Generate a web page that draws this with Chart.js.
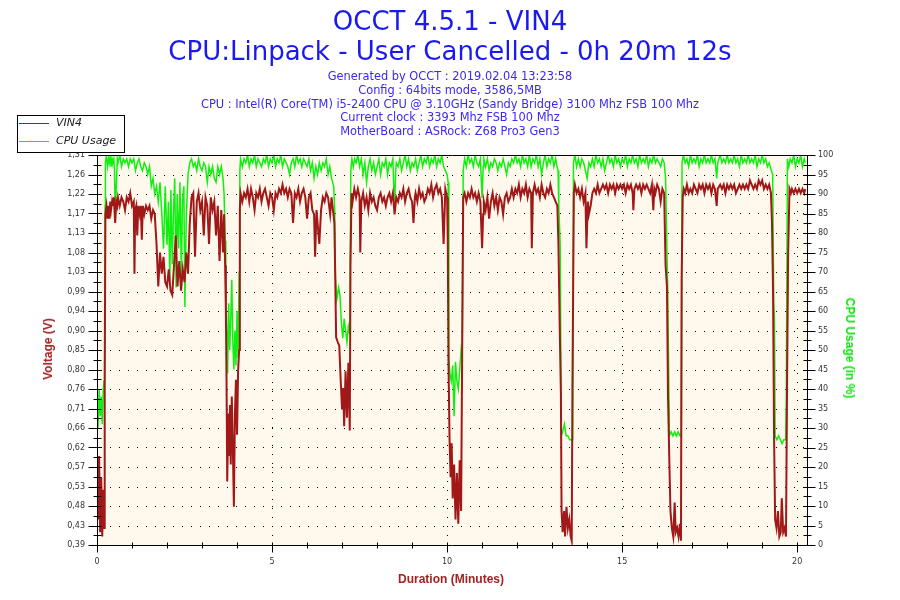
<!DOCTYPE html>
<html>
<head>
<meta charset="utf-8">
<script src="https://cdn.jsdelivr.net/npm/chart.js@4/dist/chart.umd.min.js"></script>
<style>
  body { margin: 0; background: #fff; }
  #wrap { position: relative; width: 900px; height: 600px; overflow: hidden; }
  #c { position: absolute; left: 0; top: 0; }
  .t { position: absolute; left: 0; width: 900px; text-align: center; font-family: "DejaVu Sans", sans-serif; white-space: nowrap; }
  .big { font-size: 26px; line-height: 30px; color: #1a1aee; }
  .small { font-size: 11.4px; line-height: 13.8px; color: #3c28f0; }
  .axt { position: absolute; font-family: "Liberation Sans", Arial, sans-serif; font-weight: bold; font-size: 12px; white-space: nowrap; }
  #legend { position: absolute; left: 17px; top: 115px; width: 106px; height: 36px; border: 1px solid #000; background: #fff; font-family: "DejaVu Sans", sans-serif; font-style: italic; font-size: 11px; color: #222; }
  #legend .ln { position: absolute; left: 1px; width: 30px; height: 1px; }
  #legend .lb { position: absolute; left: 38px; line-height: 14px; }
</style>
</head>
<body>
<div id="wrap">
  <canvas id="c" width="900" height="600"></canvas>
  <div class="t big" style="top:6px">OCCT 4.5.1 - VIN4</div>
  <div class="t big" style="top:36px">CPU:Linpack - User Cancelled - 0h 20m 12s</div>
  <div class="t small" style="top:70px">Generated by OCCT : 2019.02.04 13:23:58<br>Config : 64bits mode, 3586,5MB<br>CPU : Intel(R) Core(TM) i5-2400 CPU @ 3.10GHz (Sandy Bridge) 3100 Mhz FSB 100 Mhz<br>Current clock : 3393 Mhz FSB 100 Mhz<br>MotherBoard : ASRock: Z68 Pro3 Gen3</div>
  <div id="legend">
    <div class="ln" style="top:7px;background:#a01818"></div><div class="lb" style="top:0px">VIN4</div>
    <div class="ln" style="top:25px;background:#10f010"></div><div class="lb" style="top:18px">CPU Usage</div>
  </div>
  <div class="axt" style="left:48px;top:349px;color:#a52222;transform:translate(-50%,-50%) rotate(-90deg)">Voltage (V)</div>
  <div class="axt" style="left:850px;top:348px;color:#10e010;transform:translate(-50%,-50%) rotate(90deg)">CPU Usage (in %)</div>
  <div class="axt" style="left:451px;top:579px;color:#a52222;transform:translate(-50%,-50%)">Duration (Minutes)</div>
</div>
<script>
// VIN4: [minute, volts]
const vinSamples = [
  [0.00, 0.58], [0.03, 0.45], [0.06, 0.60], [0.09, 0.42], [0.12, 0.55], [0.15, 0.41], [0.18, 0.52], [0.21, 0.43], [0.22, 0.78],
  [0.24, 1.17], [0.27, 1.19], [0.30, 1.16], [0.33, 1.19], [0.35, 1.16], [0.38, 1.20], [0.40, 1.18], [0.43, 1.20], [0.45, 1.19],
  [0.48, 1.21], [0.50, 1.18], [0.52, 1.15], [0.55, 1.20], [0.58, 1.19], [0.60, 1.21], [0.65, 1.19], [0.70, 1.21], [0.75, 1.20],
  [0.80, 1.18], [0.85, 1.21], [0.90, 1.20], [0.95, 1.22], [1.00, 1.19], [1.05, 1.20], [1.07, 1.03], [1.09, 1.18], [1.12, 1.19],
  [1.15, 1.12], [1.18, 1.19], [1.22, 1.17], [1.25, 1.19], [1.28, 1.11], [1.31, 1.19], [1.35, 1.17], [1.40, 1.19], [1.45, 1.18],
  [1.50, 1.19], [1.55, 1.16], [1.60, 1.18], [1.65, 1.17],
  [1.70, 1.10], [1.75, 1.00], [1.80, 1.08], [1.85, 1.03], [1.90, 1.07], [1.95, 1.01], [2.00, 1.00], [2.05, 1.04], [2.10, 0.99],
  [2.15, 0.98], [2.20, 1.05], [2.25, 1.12], [2.30, 1.00], [2.35, 1.06], [2.40, 0.99], [2.45, 1.04], [2.50, 1.01], [2.55, 1.08],
  [2.60, 1.03], [2.65, 1.15],
  [2.70, 1.21], [2.75, 1.22], [2.80, 1.07], [2.85, 1.20], [2.90, 1.22], [2.95, 1.18], [3.00, 1.20], [3.05, 1.12], [3.10, 1.21],
  [3.15, 1.19], [3.20, 1.10], [3.25, 1.21], [3.30, 1.18], [3.35, 1.20], [3.40, 1.12], [3.45, 1.19], [3.50, 1.06], [3.55, 1.18],
  [3.60, 1.08], [3.63, 1.17],
  [3.66, 1.05], [3.68, 0.95], [3.70, 0.78], [3.72, 0.54], [3.75, 0.70], [3.77, 0.60], [3.80, 0.72], [3.82, 0.58], [3.85, 0.74],
  [3.88, 0.62], [3.91, 0.48], [3.94, 0.70], [3.97, 0.78], [4.00, 0.65], [4.03, 0.80], [4.06, 0.85], [4.08, 1.18],
  [4.10, 1.22], [4.15, 1.20], [4.20, 1.22], [4.25, 1.21], [4.30, 1.23], [4.35, 1.20], [4.40, 1.23], [4.45, 1.21], [4.50, 1.18],
  [4.55, 1.22], [4.60, 1.21], [4.65, 1.23], [4.70, 1.20], [4.75, 1.22], [4.80, 1.23], [4.85, 1.21], [4.90, 1.19], [4.95, 1.22],
  [5.00, 1.21], [5.05, 1.18], [5.10, 1.22], [5.15, 1.21], [5.20, 1.23], [5.25, 1.22], [5.30, 1.24], [5.35, 1.22], [5.40, 1.23],
  [5.45, 1.21], [5.50, 1.23], [5.55, 1.22], [5.60, 1.15], [5.65, 1.22], [5.70, 1.21], [5.75, 1.23], [5.80, 1.20], [5.85, 1.22],
  [5.90, 1.23], [5.95, 1.21], [6.00, 1.16], [6.05, 1.21], [6.10, 1.22], [6.15, 1.18], [6.20, 1.17], [6.23, 1.07], [6.27, 1.18],
  [6.30, 1.15], [6.35, 1.10], [6.40, 1.18], [6.45, 1.21], [6.50, 1.20], [6.55, 1.22], [6.60, 1.21], [6.66, 1.17], [6.70, 1.21],
  [6.78, 1.15], [6.80, 1.05], [6.83, 0.88], [6.87, 0.87], [6.92, 0.86], [6.96, 0.78], [7.00, 0.71], [7.03, 0.76], [7.06, 0.67],
  [7.10, 0.80], [7.14, 0.69], [7.18, 0.82], [7.22, 0.66], [7.24, 1.05],
  [7.27, 1.22], [7.30, 1.20], [7.35, 1.23], [7.40, 1.21], [7.45, 1.23], [7.50, 1.21], [7.52, 1.08], [7.55, 1.20], [7.60, 1.22],
  [7.65, 1.19], [7.70, 1.21], [7.75, 1.18], [7.80, 1.22], [7.85, 1.20], [7.90, 1.21], [7.95, 1.19], [8.00, 1.18], [8.05, 1.21],
  [8.10, 1.22], [8.15, 1.20], [8.20, 1.21], [8.25, 1.19], [8.30, 1.21], [8.35, 1.22], [8.40, 1.20], [8.45, 1.22], [8.50, 1.17],
  [8.55, 1.21], [8.60, 1.20], [8.65, 1.22], [8.70, 1.21], [8.75, 1.23], [8.80, 1.20], [8.85, 1.22], [8.90, 1.23], [8.95, 1.21],
  [9.00, 1.20], [9.04, 1.15], [9.08, 1.21], [9.10, 1.22], [9.15, 1.20], [9.20, 1.23], [9.25, 1.21], [9.30, 1.22], [9.35, 1.20],
  [9.40, 1.21], [9.45, 1.23], [9.50, 1.22], [9.55, 1.24], [9.60, 1.21], [9.65, 1.23], [9.70, 1.24], [9.75, 1.22], [9.80, 1.23],
  [9.85, 1.21], [9.90, 1.10], [9.95, 1.23], [10.00, 1.21],
  [10.02, 1.10], [10.04, 0.82], [10.07, 0.64], [10.10, 0.55], [10.13, 0.63], [10.16, 0.50], [10.20, 0.58], [10.24, 0.45],
  [10.28, 0.56], [10.32, 0.44], [10.36, 0.59], [10.40, 0.47], [10.43, 0.84],
  [10.46, 1.21], [10.50, 1.22], [10.55, 1.20], [10.60, 1.22], [10.65, 1.21], [10.70, 1.23], [10.75, 1.21], [10.80, 1.22],
  [10.85, 1.20], [10.90, 1.22], [10.95, 1.20], [11.00, 1.09], [11.03, 1.17], [11.05, 1.20], [11.10, 1.18], [11.15, 1.21],
  [11.20, 1.16], [11.25, 1.20], [11.30, 1.22], [11.35, 1.19], [11.40, 1.21], [11.45, 1.18], [11.50, 1.21], [11.55, 1.20],
  [11.60, 1.17], [11.65, 1.21], [11.70, 1.22], [11.75, 1.20], [11.80, 1.21], [11.85, 1.23], [11.90, 1.21], [11.95, 1.23],
  [12.00, 1.22], [12.05, 1.24], [12.10, 1.21], [12.15, 1.23], [12.20, 1.22], [12.25, 1.24], [12.30, 1.21], [12.35, 1.23],
  [12.40, 1.22], [12.42, 1.09], [12.45, 1.22], [12.50, 1.24], [12.55, 1.22], [12.60, 1.23], [12.65, 1.21], [12.70, 1.24],
  [12.75, 1.22], [12.80, 1.21], [12.85, 1.23], [12.90, 1.22], [12.95, 1.24], [13.00, 1.22], [13.05, 1.21], [13.10, 1.20],
  [13.15, 1.19],
  [13.18, 1.10], [13.22, 0.89], [13.25, 0.75], [13.27, 0.47], [13.30, 0.42], [13.34, 0.47], [13.37, 0.41], [13.41, 0.48],
  [13.45, 0.43], [13.49, 0.45], [13.53, 0.41], [13.56, 0.40], [13.58, 0.76],
  [13.62, 1.22], [13.65, 1.24], [13.70, 1.22], [13.75, 1.23], [13.80, 1.21], [13.85, 1.23], [13.90, 1.20], [13.95, 1.22],
  [13.98, 1.09], [14.02, 1.20], [14.05, 1.17], [14.10, 1.19], [14.15, 1.22], [14.20, 1.23], [14.25, 1.22], [14.30, 1.24],
  [14.35, 1.22], [14.40, 1.23], [14.45, 1.24], [14.50, 1.23], [14.55, 1.24], [14.60, 1.22], [14.65, 1.24], [14.70, 1.23],
  [14.75, 1.24], [14.80, 1.22], [14.85, 1.24], [14.90, 1.23], [14.95, 1.24], [15.00, 1.23], [15.05, 1.24], [15.10, 1.22],
  [15.15, 1.24], [15.20, 1.23], [15.25, 1.24], [15.30, 1.22], [15.32, 1.18], [15.35, 1.23], [15.40, 1.24], [15.45, 1.23],
  [15.50, 1.24], [15.55, 1.22], [15.60, 1.24], [15.65, 1.23], [15.70, 1.24], [15.75, 1.23], [15.80, 1.22], [15.85, 1.24],
  [15.89, 1.18], [15.92, 1.23], [15.95, 1.22], [16.00, 1.24], [16.05, 1.23], [16.10, 1.20], [16.15, 1.23], [16.20, 1.22],
  [16.24, 1.05], [16.28, 1.00], [16.31, 0.74], [16.35, 0.58], [16.38, 0.47], [16.42, 0.43], [16.46, 0.41], [16.50, 0.49],
  [16.53, 0.42], [16.57, 0.43], [16.61, 0.41], [16.65, 0.44], [16.68, 0.40], [16.70, 1.02],
  [16.73, 1.21], [16.76, 1.23], [16.80, 1.22], [16.85, 1.24], [16.90, 1.22], [16.95, 1.23], [17.00, 1.22], [17.05, 1.24],
  [17.10, 1.23], [17.15, 1.22], [17.20, 1.24], [17.25, 1.23], [17.30, 1.24], [17.35, 1.22], [17.40, 1.24], [17.45, 1.23],
  [17.50, 1.24], [17.55, 1.22], [17.60, 1.24], [17.65, 1.23], [17.70, 1.19], [17.73, 1.23], [17.80, 1.24], [17.85, 1.23],
  [17.90, 1.24], [17.95, 1.22], [18.00, 1.24], [18.05, 1.23], [18.10, 1.24], [18.15, 1.23], [18.20, 1.24], [18.25, 1.22],
  [18.30, 1.23], [18.35, 1.24], [18.40, 1.23], [18.45, 1.24], [18.50, 1.23], [18.55, 1.24], [18.60, 1.23], [18.65, 1.25],
  [18.70, 1.24], [18.75, 1.23], [18.80, 1.24], [18.85, 1.23], [18.90, 1.25], [18.95, 1.24], [19.00, 1.25], [19.05, 1.23],
  [19.10, 1.24], [19.15, 1.23], [19.20, 1.24], [19.25, 1.22],
  [19.28, 1.15], [19.31, 0.99], [19.34, 0.64], [19.37, 0.45], [19.41, 0.43], [19.45, 0.47], [19.49, 0.41], [19.53, 0.42],
  [19.56, 0.50], [19.60, 0.42], [19.64, 0.43], [19.68, 0.41], [19.71, 0.76], [19.74, 1.07],
  [19.78, 1.23], [19.82, 1.22], [19.85, 1.23], [19.90, 1.22], [19.95, 1.23], [20.00, 1.22], [20.05, 1.23], [20.10, 1.22],
  [20.15, 1.23], [20.20, 1.22], [20.23, 1.23]
];

// CPU usage: [minute, percent]
const cpuSamples = [
  [0.00, 36], [0.03, 30], [0.06, 40], [0.09, 33], [0.12, 38], [0.15, 31], [0.18, 40], [0.20, 42], [0.22, 45], [0.23, 87],
  [0.24, 98], [0.27, 100], [0.30, 97], [0.33, 99], [0.35, 98], [0.38, 100], [0.40, 97], [0.43, 99], [0.45, 98], [0.48, 99],
  [0.50, 96], [0.52, 84], [0.55, 92], [0.58, 99], [0.60, 98], [0.65, 100], [0.70, 97], [0.75, 99], [0.80, 98], [0.85, 99],
  [0.90, 97], [0.95, 99], [1.00, 98], [1.05, 99], [1.10, 96], [1.15, 98], [1.20, 99], [1.25, 97], [1.30, 96], [1.35, 98],
  [1.40, 97], [1.45, 95], [1.50, 97], [1.55, 92], [1.60, 94], [1.65, 90],
  [1.70, 92], [1.75, 88], [1.80, 93], [1.85, 85], [1.90, 76], [1.95, 92], [2.00, 77], [2.04, 88], [2.08, 68], [2.11, 91],
  [2.15, 72], [2.18, 84], [2.22, 94], [2.26, 66], [2.29, 90], [2.33, 76], [2.37, 93], [2.41, 69], [2.44, 88], [2.48, 92],
  [2.51, 61], [2.55, 84], [2.60, 95],
  [2.65, 98], [2.70, 99], [2.75, 97], [2.80, 98], [2.85, 96], [2.90, 99], [2.95, 97], [3.00, 96], [3.05, 98], [3.10, 97],
  [3.15, 93], [3.20, 97], [3.25, 95], [3.30, 97], [3.35, 94], [3.40, 93], [3.45, 97], [3.50, 95], [3.55, 97], [3.60, 94],
  [3.63, 90],
  [3.66, 78], [3.68, 66], [3.70, 56], [3.73, 44], [3.76, 62], [3.79, 50], [3.82, 58], [3.85, 68], [3.88, 52], [3.91, 45],
  [3.94, 55], [3.97, 46], [4.00, 60], [4.03, 48], [4.06, 70], [4.08, 96],
  [4.10, 99], [4.15, 97], [4.20, 99], [4.25, 98], [4.30, 100], [4.35, 97], [4.40, 99], [4.45, 98], [4.50, 100], [4.55, 97],
  [4.60, 99], [4.65, 98], [4.70, 97], [4.75, 99], [4.80, 98], [4.85, 100], [4.90, 97], [4.95, 99], [5.00, 98], [5.05, 100],
  [5.10, 97], [5.15, 99], [5.20, 98], [5.25, 100], [5.30, 97], [5.35, 99], [5.40, 98], [5.45, 97], [5.50, 95], [5.55, 98],
  [5.60, 99], [5.65, 97], [5.70, 100], [5.75, 98], [5.80, 99], [5.85, 97], [5.90, 99], [5.95, 98], [6.00, 97], [6.05, 99],
  [6.10, 96], [6.15, 98], [6.20, 94], [6.25, 97], [6.30, 95], [6.35, 98], [6.40, 96], [6.45, 98], [6.50, 97], [6.55, 99],
  [6.60, 95], [6.65, 97], [6.70, 94],
  [6.76, 92], [6.79, 86], [6.81, 69], [6.85, 63], [6.90, 66], [6.94, 64], [6.98, 57], [7.02, 53], [7.06, 58], [7.10, 55],
  [7.14, 52], [7.18, 56], [7.22, 54], [7.25, 96],
  [7.28, 99], [7.32, 97], [7.36, 99], [7.40, 98], [7.45, 100], [7.50, 97], [7.55, 99], [7.60, 95], [7.65, 98], [7.70, 93],
  [7.75, 97], [7.80, 99], [7.85, 96], [7.90, 98], [7.95, 95], [8.00, 97], [8.05, 99], [8.10, 95], [8.15, 98], [8.20, 97],
  [8.25, 99], [8.30, 95], [8.35, 98], [8.40, 97], [8.45, 99], [8.50, 86], [8.53, 96], [8.55, 98], [8.60, 97], [8.65, 99],
  [8.70, 96], [8.75, 98], [8.80, 100], [8.85, 97], [8.90, 99], [8.95, 96], [9.00, 98], [9.05, 97], [9.10, 99], [9.15, 96],
  [9.20, 98], [9.25, 100], [9.30, 97], [9.35, 99], [9.40, 98], [9.45, 100], [9.50, 97], [9.55, 99], [9.60, 98], [9.65, 100],
  [9.70, 97], [9.75, 99], [9.80, 98], [9.85, 100], [9.90, 97], [9.95, 96], [10.00, 95], [10.03, 93],
  [10.05, 48], [10.08, 44], [10.12, 42], [10.16, 46], [10.20, 33], [10.24, 47], [10.28, 42], [10.32, 40], [10.36, 45],
  [10.40, 50], [10.43, 48],
  [10.46, 96], [10.50, 99], [10.55, 97], [10.60, 100], [10.65, 98], [10.70, 99], [10.75, 97], [10.80, 100], [10.85, 98],
  [10.90, 97], [10.95, 99], [11.00, 89], [11.03, 97], [11.05, 99], [11.10, 97], [11.15, 99], [11.20, 96], [11.25, 98],
  [11.30, 97], [11.35, 99], [11.40, 98], [11.45, 96], [11.50, 98], [11.55, 97], [11.60, 99], [11.65, 97], [11.70, 95],
  [11.75, 98], [11.80, 97], [11.85, 99], [11.90, 98], [11.95, 100], [12.00, 98], [12.05, 99], [12.10, 97], [12.15, 100],
  [12.20, 98], [12.25, 99], [12.30, 97], [12.35, 100], [12.40, 97], [12.45, 99], [12.50, 98], [12.55, 100], [12.60, 97],
  [12.65, 99], [12.70, 95], [12.75, 98], [12.80, 100], [12.85, 97], [12.90, 99], [12.95, 98], [13.00, 100], [13.05, 97],
  [13.10, 99], [13.14, 97],
  [13.17, 96], [13.19, 87], [13.23, 77], [13.26, 28], [13.30, 29], [13.35, 31], [13.40, 28], [13.45, 28], [13.50, 27],
  [13.55, 27], [13.59, 27],
  [13.61, 98], [13.65, 100], [13.70, 97], [13.75, 99], [13.80, 97], [13.85, 99], [13.90, 98], [13.95, 96], [14.00, 94],
  [14.05, 98], [14.10, 97], [14.15, 99], [14.20, 97], [14.25, 100], [14.30, 98], [14.35, 99], [14.40, 97], [14.45, 99],
  [14.50, 96], [14.55, 98], [14.60, 100], [14.65, 98], [14.70, 99], [14.75, 97], [14.80, 100], [14.85, 98], [14.90, 99],
  [14.95, 97], [15.00, 99], [15.05, 98], [15.10, 100], [15.15, 97], [15.20, 99], [15.25, 98], [15.30, 100], [15.35, 98],
  [15.40, 99], [15.45, 97], [15.50, 100], [15.55, 98], [15.60, 99], [15.65, 98], [15.70, 100], [15.75, 97], [15.80, 99],
  [15.85, 98], [15.90, 100], [15.95, 98], [16.00, 99], [16.05, 98], [16.10, 97], [16.15, 99], [16.20, 98],
  [16.24, 94], [16.27, 80], [16.30, 66], [16.32, 51], [16.35, 28], [16.40, 29], [16.45, 28], [16.50, 29], [16.55, 28],
  [16.60, 29], [16.65, 28], [16.69, 28],
  [16.71, 98], [16.75, 100], [16.80, 98], [16.85, 99], [16.90, 97], [16.95, 100], [17.00, 98], [17.05, 99], [17.10, 98],
  [17.15, 100], [17.20, 97], [17.25, 99], [17.30, 98], [17.35, 100], [17.40, 98], [17.45, 99], [17.50, 98], [17.55, 100],
  [17.60, 98], [17.65, 99], [17.70, 94], [17.73, 98], [17.80, 100], [17.85, 98], [17.90, 99], [17.95, 98], [18.00, 100],
  [18.05, 98], [18.10, 99], [18.15, 98], [18.20, 100], [18.25, 98], [18.30, 99], [18.35, 97], [18.40, 100], [18.45, 98],
  [18.50, 99], [18.55, 98], [18.60, 100], [18.65, 98], [18.70, 99], [18.75, 98], [18.80, 100], [18.85, 97], [18.90, 99],
  [18.95, 98], [19.00, 100], [19.05, 98], [19.10, 99], [19.15, 97], [19.20, 98], [19.26, 96],
  [19.30, 95], [19.33, 62], [19.35, 58], [19.37, 28], [19.42, 27], [19.47, 28], [19.52, 27], [19.57, 26], [19.62, 27],
  [19.67, 27], [19.69, 38],
  [19.72, 99], [19.76, 97], [19.80, 99], [19.85, 98], [19.90, 100], [19.95, 97], [20.00, 99], [20.05, 98], [20.10, 100],
  [20.15, 97], [20.20, 99], [20.23, 98]
];

// axis ticks as printed on the reference
const voltTickLabels = ['0,39', '0,43', '0,48', '0,53', '0,57', '0,62', '0,66', '0,71', '0,76', '0,80', '0,85',
  '0,90', '0,94', '0,99', '1,03', '1,08', '1,13', '1,17', '1,22', '1,26', '1,31'];
const minuteTicks = [0, 5, 10, 15, 20];

const V_MIN = 0.39, V_MAX = 1.31, T_MAX = 20.28;

// background, dotted grid, frame and the little tick marks
const framePlugin = {
  id: 'frame',
  beforeDatasetsDraw(chart) {
    const { ctx, chartArea: a, scales } = chart;
    ctx.save();
    ctx.fillStyle = '#fff8ec';
    ctx.fillRect(a.left, a.top, a.right - a.left, a.bottom - a.top);
    ctx.strokeStyle = '#000';
    ctx.lineWidth = 1;
    ctx.setLineDash([1, 8]);
    ctx.beginPath();
    scales.y.ticks.forEach(t => {
      const y = Math.round(scales.y.getPixelForValue(t.value)) + 0.5;
      if (y > a.top + 2 && y < a.bottom - 2) { ctx.moveTo(a.left + 4, y); ctx.lineTo(a.right, y); }
    });
    scales.x.ticks.forEach(t => {
      const x = Math.round(scales.x.getPixelForValue(t.value)) + 0.5;
      if (x > a.left + 2 && x < a.right - 2) { ctx.moveTo(x, a.top + 2); ctx.lineTo(x, a.bottom); }
    });
    ctx.stroke();
    ctx.restore();
  },
  afterDatasetsDraw(chart) {
    const { ctx, chartArea: a, scales } = chart;
    const L = Math.round(a.left) + 0.5, R = Math.round(a.right) + 0.5;
    const T = Math.round(a.top) + 0.5, B = Math.round(a.bottom) + 0.5;
    ctx.save();
    ctx.strokeStyle = '#000';
    ctx.lineWidth = 1;
    ctx.beginPath();
    ctx.rect(L, T, R - L, B - T);
    // left axis: major at labels, minor halfway
    const ys = scales.y.ticks.map(t => scales.y.getPixelForValue(t.value));
    ys.forEach((y, i) => {
      const yy = Math.round(y) + 0.5;
      ctx.moveTo(L - 9, yy); ctx.lineTo(L + 4, yy);
      if (i < ys.length - 1) {
        const ym = Math.round((y + ys[i + 1]) / 2) + 0.5;
        ctx.moveTo(L - 4, ym); ctx.lineTo(L + 4, ym);
      }
    });
    // right axis
    const yr = scales.y2.ticks.map(t => scales.y2.getPixelForValue(t.value));
    yr.forEach((y, i) => {
      const yy = Math.round(y) + 0.5;
      ctx.moveTo(R - 4, yy); ctx.lineTo(R + 8, yy);
      if (i < yr.length - 1) {
        const ym = Math.round((y + yr[i + 1]) / 2) + 0.5;
        ctx.moveTo(R - 4, ym); ctx.lineTo(R + 4, ym);
      }
    });
    // bottom axis: majors every 5 min, minors every minute
    for (let m = 0; m <= T_MAX; m++) {
      const x = Math.round(scales.x.getPixelForValue(m)) + 0.5;
      if (m % 5 === 0) { ctx.moveTo(x, B - 3); ctx.lineTo(x, B + 7); }
      else { ctx.moveTo(x, B - 3); ctx.lineTo(x, B + 3); }
    }
    ctx.stroke();
    ctx.restore();
  }
};

const tickFont = { family: 'DejaVu Sans', size: 8 };

new Chart(document.getElementById('c'), {
  type: 'line',
  data: {
    datasets: [
      {
        label: 'VIN4',
        data: vinSamples.map(([t, v]) => ({ x: t, y: v })),
        yAxisID: 'y',
        borderColor: '#a01818',
        borderWidth: 2,
        pointRadius: 0,
        order: 0
      },
      {
        label: 'CPU Usage',
        data: cpuSamples.map(([t, p]) => ({ x: t, y: p })),
        yAxisID: 'y2',
        borderColor: '#10f010',
        borderWidth: 1.5,
        pointRadius: 0,
        order: 1
      }
    ]
  },
  options: {
    responsive: false,
    animation: false,
    events: [],
    elements: { line: { tension: 0, borderJoinStyle: 'miter' } },
    layout: { padding: { top: 155, left: 0, right: 0, bottom: 0 } },
    plugins: { legend: { display: false }, title: { display: false }, tooltip: { enabled: false } },
    scales: {
      x: {
        type: 'linear',
        min: 0,
        max: T_MAX,
        grid: { display: false, drawTicks: false },
        border: { display: false },
        afterBuildTicks: s => { s.ticks = minuteTicks.map(v => ({ value: v })); },
        afterFit: s => { s.height = 55; },
        ticks: { autoSkip: false, maxRotation: 0, padding: 12, color: '#333', font: tickFont, callback: v => String(v) }
      },
      y: {
        type: 'linear',
        position: 'left',
        min: V_MIN,
        max: V_MAX,
        grid: { display: false, drawTicks: false },
        border: { display: false },
        afterBuildTicks: s => {
          s.ticks = voltTickLabels.map((_, i) => ({ value: V_MIN + (V_MAX - V_MIN) * i / (voltTickLabels.length - 1) }));
        },
        afterFit: s => { s.width = 97; },
        ticks: { autoSkip: false, padding: 12, color: '#333', font: tickFont, callback: (v, i) => voltTickLabels[i] }
      },
      y2: {
        type: 'linear',
        position: 'right',
        min: 0,
        max: 100,
        grid: { display: false, drawTicks: false },
        border: { display: false },
        afterFit: s => { s.width = 93; },
        ticks: { autoSkip: false, stepSize: 5, padding: 11, color: '#333', font: tickFont }
      }
    }
  },
  plugins: [framePlugin]
});
</script>
</body>
</html>
